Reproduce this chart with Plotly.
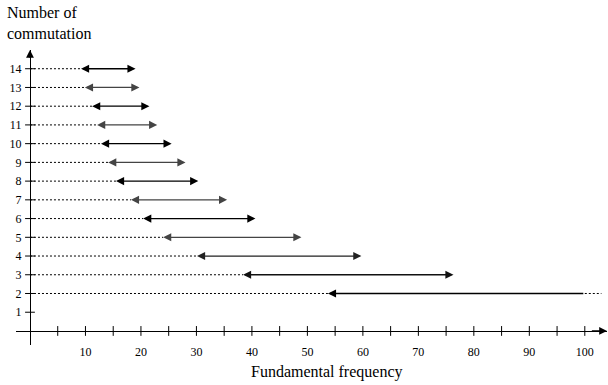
import plotly.graph_objects as go

# ---- data ----
rows = [2, 3, 4, 5, 6, 7, 8, 9, 10, 11, 12, 13, 14]
f_low = [53.7, 38.4, 30.1, 24.0, 20.4, 18.2, 15.5, 14.1, 12.8, 12.1, 11.2, 9.9, 9.2]
f_high = [100.0, 76.6, 60.0, 49.2, 40.9, 35.8, 30.6, 28.3, 25.8, 23.2, 21.8, 20.0, 19.3]
open_end = [True, False, False, False, False, False, False, False, False, False, False, False, False]
open_extent = 103.0
arrow_colors = ["#000000", "#111111", "#222222", "#444444", "#000000", "#444444",
                "#000000", "#444444", "#000000", "#444444", "#000000", "#444444", "#000000"]
x_tick_vals = [10, 20, 30, 40, 50, 60, 70, 80, 90, 100]
x_minor = [5, 10, 15, 20, 25, 30, 35, 40, 45, 50, 55, 60, 65, 70, 75, 80, 85, 90, 95, 100]
y_tick_vals = list(range(1, 15))

xr = [-2.52, 104.0]
yr = [-0.75, 15.0]

FONT = "Times New Roman, Liberation Serif, DejaVu Serif, serif"
fig = go.Figure()

# dotted guides from the y axis to the lower limit
for r, lo, hi, op in zip(rows, f_low, f_high, open_end):
    fig.add_trace(go.Scatter(x=[0, lo], y=[r, r], mode="lines",
                             line=dict(color="black", width=1, dash="2px,2px"),
                             hoverinfo="skip", showlegend=False))
    if op:
        fig.add_trace(go.Scatter(x=[hi, open_extent], y=[r, r], mode="lines",
                                 line=dict(color="black", width=1, dash="2px,2px"),
                                 hoverinfo="skip", showlegend=False))

# tick marks crossing the axes
fig.add_trace(go.Scatter(x=x_minor, y=[0] * len(x_minor), mode="markers",
                         marker=dict(symbol="line-ns", size=7,
                                     line=dict(color="black", width=1)),
                         hoverinfo="skip", showlegend=False))
fig.add_trace(go.Scatter(x=[0] * len(y_tick_vals), y=y_tick_vals, mode="markers",
                         marker=dict(symbol="line-ew", size=7,
                                     line=dict(color="black", width=1)),
                         hoverinfo="skip", showlegend=False))

# range arrows
for r, lo, hi, op, c in zip(rows, f_low, f_high, open_end, arrow_colors):
    fig.add_annotation(x=lo, y=r, ax=hi, ay=r, xref="x", yref="y", axref="x", ayref="y",
                       text="", showarrow=True, arrowhead=2, arrowsize=1.25,
                       arrowwidth=1.3, arrowcolor=c,
                       arrowside="end" if op else "end+start",
                       startarrowhead=2, startarrowsize=1.25, standoff=0, startstandoff=0)

# axis arrowheads
fig.add_annotation(x=xr[1], y=0, ax=xr[1] - 3, ay=0, xref="x", yref="y", axref="x", ayref="y",
                   text="", showarrow=True, arrowhead=2, arrowsize=1.2, arrowwidth=1.3,
                   arrowcolor="black", standoff=0)
fig.add_annotation(x=0, y=yr[1], ax=0, ay=yr[1] - 0.5, xref="x", yref="y", axref="x", ayref="y",
                   text="", showarrow=True, arrowhead=2, arrowsize=1.2, arrowwidth=1.3,
                   arrowcolor="black", standoff=0)

xpos = (0 - yr[0]) / (yr[1] - yr[0])
ypos = (0 - xr[0]) / (xr[1] - xr[0])

fig.update_layout(
    width=608, height=385,
    margin=dict(l=16, r=1, t=50, b=40),
    paper_bgcolor="white", plot_bgcolor="white",
    font=dict(family=FONT, color="black", size=12),
    xaxis=dict(range=xr, showgrid=False, zeroline=False, showline=True,
               linecolor="black", linewidth=1.3,
               anchor="free", position=xpos,
               tickvals=x_tick_vals, ticks="outside", ticklen=9,
               tickcolor="rgba(0,0,0,0)", tickfont=dict(family=FONT, size=12)),
    yaxis=dict(range=yr, showgrid=False, zeroline=False, showline=True,
               linecolor="black", linewidth=1.3,
               anchor="free", position=ypos,
               tickvals=y_tick_vals, ticks="outside", ticklen=6,
               tickcolor="rgba(0,0,0,0)", tickfont=dict(family=FONT, size=12)),
    annotations=list(fig.layout.annotations) + [
        dict(text="Number of<br>commutation", xref="paper", yref="paper",
             x=(5 - 16) / 591, y=(345 - 44) / 295, xanchor="left", yanchor="bottom",
             align="left", showarrow=False, font=dict(family=FONT, size=16)),
        dict(text="Fundamental frequency", xref="paper", yref="paper",
             x=(327 - 16) / 591, y=(345 - 372) / 295, xanchor="center", yanchor="middle",
             showarrow=False, font=dict(family=FONT, size=16)),
    ],
)

fig.write_html("out.html")
